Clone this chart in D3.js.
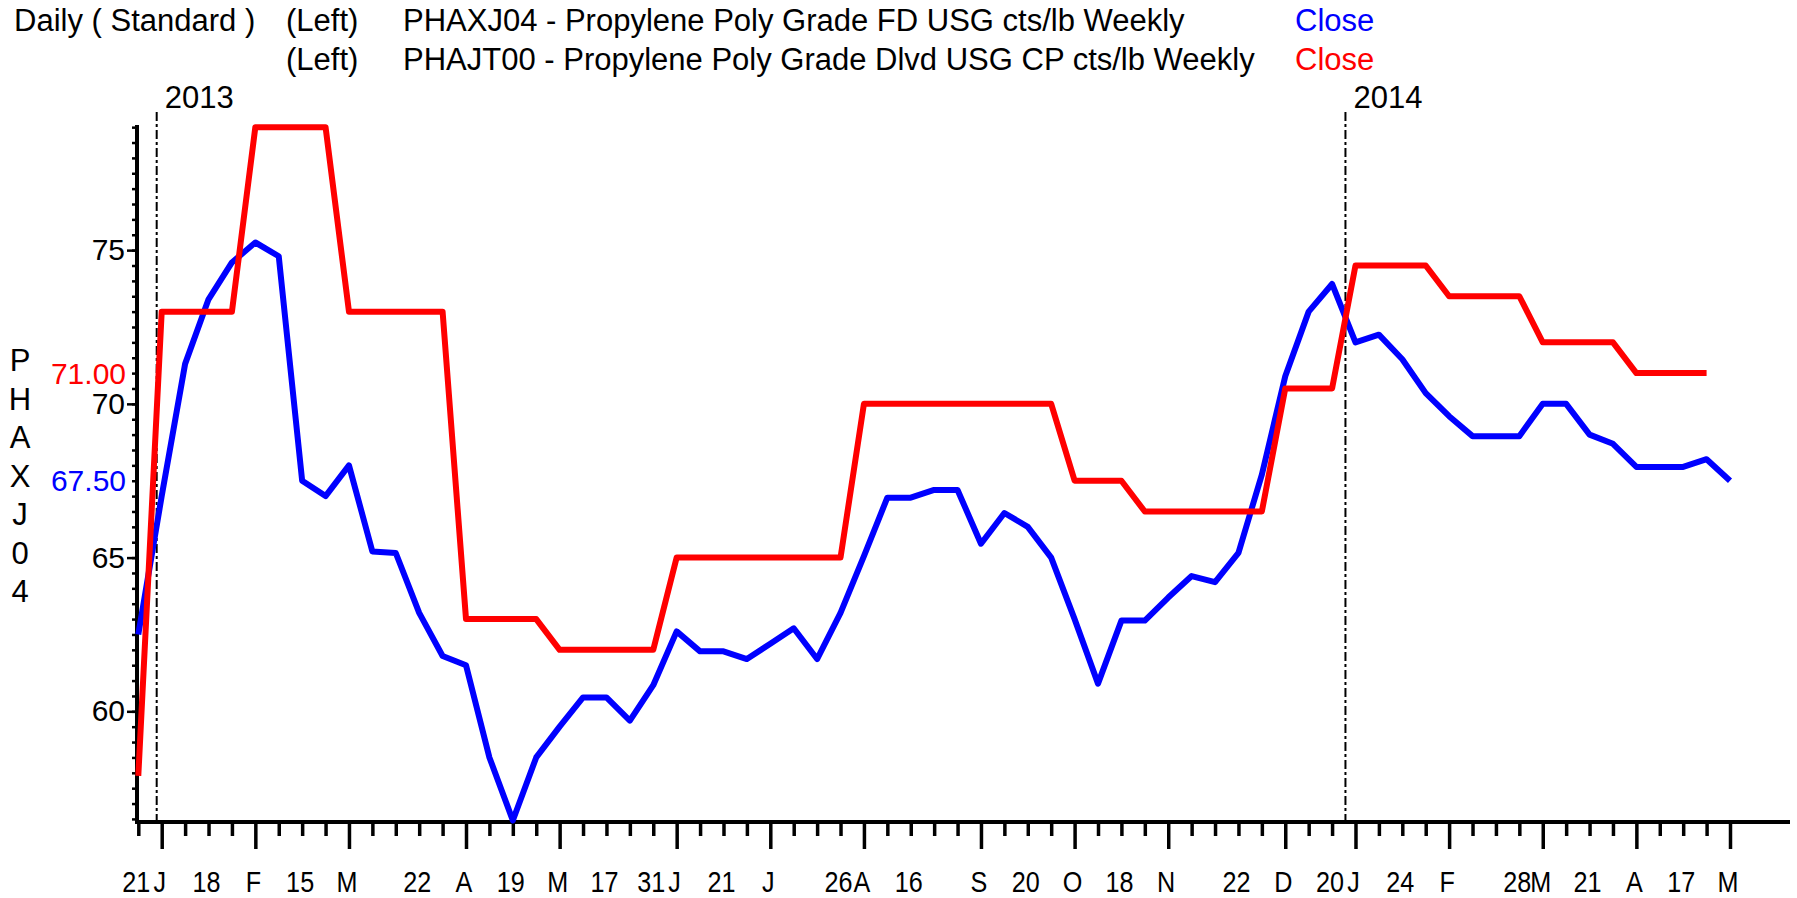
<!DOCTYPE html>
<html>
<head>
<meta charset="utf-8">
<script src="https://cdn.jsdelivr.net/npm/d3@7"></script>
<style>
  body { margin: 0; background: #fff; }
  svg { display: block; font-family: "Liberation Sans", Arial, sans-serif; }
</style>
</head>
<body>
<svg id="chart" width="1797" height="898"></svg>
<script>
// weekly observation dates (one tick per week on the axis)
const weeks = [
  "2012-12-21", "2013-01-04", "2013-01-11", "2013-01-18", "2013-01-25",
  "2013-02-01", "2013-02-08", "2013-02-15", "2013-02-22", "2013-03-01",
  "2013-03-08", "2013-03-15", "2013-03-22", "2013-03-28", "2013-04-05",
  "2013-04-12", "2013-04-19", "2013-04-26", "2013-05-03", "2013-05-10",
  "2013-05-17", "2013-05-24", "2013-05-31", "2013-06-07", "2013-06-14",
  "2013-06-21", "2013-06-28", "2013-07-05", "2013-07-12", "2013-07-19",
  "2013-07-26", "2013-08-02", "2013-08-09", "2013-08-16", "2013-08-23",
  "2013-08-30", "2013-09-06", "2013-09-13", "2013-09-20", "2013-09-27",
  "2013-10-04", "2013-10-11", "2013-10-18", "2013-10-25", "2013-11-01",
  "2013-11-08", "2013-11-15", "2013-11-22", "2013-11-29", "2013-12-06",
  "2013-12-13", "2013-12-20", "2014-01-10", "2014-01-17", "2014-01-24",
  "2014-01-31", "2014-02-07", "2014-02-14", "2014-02-21", "2014-02-28",
  "2014-03-07", "2014-03-14", "2014-03-21", "2014-03-28", "2014-04-04",
  "2014-04-11", "2014-04-17", "2014-04-25", "2014-05-02"
];

const xTickLabels = [
  "21", "J", "", "18", "", "F", "", "15", "", "M",
  "", "", "22", "", "A", "", "19", "", "M", "",
  "17", "", "31", "J", "", "21", "", "J", "", "",
  "26", "A", "", "16", "", "", "S", "", "20", "",
  "O", "", "18", "", "N", "", "", "22", "", "D",
  "", "20", "J", "", "24", "", "F", "", "", "28",
  "M", "", "21", "", "A", "", "17", "", "M"
];

// PHAXJ04 - FD USG (blue)
const phaxj04 = [
  62.5, 67.0, 71.3, 73.4, 74.6, 75.25, 74.8, 67.5, 67.0, 68.0,
  65.2, 65.15, 63.2, 61.8, 61.5, 58.5, 56.45, 58.5, 59.5, 60.45,
  60.45, 59.7, 60.85, 62.6, 61.95, 61.95, 61.7, 62.2, 62.7, 61.7,
  63.2, 65.05, 66.95, 66.95, 67.2, 67.2, 65.45, 66.45, 66.0, 65.0,
  63.0, 60.9, 62.95, 62.95, 63.7, 64.4, 64.2, 65.15, 67.7, 70.9,
  73.0, 73.9, 72.0, 72.25, 71.45, 70.35, 69.6, 68.95, 68.95, 68.95,
  70.0, 70.0, 69.0, 68.7, 67.95, 67.95, 67.95, 68.2, 67.5
];

// PHAJT00 - Dlvd USG CP (red), one week shorter
const phajt00 = [
  57.9, 73.0, 73.0, 73.0, 73.0, 79.0, 79.0, 79.0, 79.0, 73.0,
  73.0, 73.0, 73.0, 73.0, 63.0, 63.0, 63.0, 63.0, 62.0, 62.0,
  62.0, 62.0, 62.0, 65.0, 65.0, 65.0, 65.0, 65.0, 65.0, 65.0,
  65.0, 70.0, 70.0, 70.0, 70.0, 70.0, 70.0, 70.0, 70.0, 70.0,
  67.5, 67.5, 67.5, 66.5, 66.5, 66.5, 66.5, 66.5, 66.5, 70.5,
  70.5, 70.5, 74.5, 74.5, 74.5, 74.5, 73.5, 73.5, 73.5, 73.5,
  72.0, 72.0, 72.0, 72.0, 71.0, 71.0, 71.0, 71.0
];

const yMajorTicks = [60, 65, 70, 75];
const yAxisTitle = "PHAXJ04";

const series = [
  { code: "PHAXJ04", name: "PHAXJ04 - Propylene Poly Grade FD USG cts/lb Weekly", values: phaxj04, colour: "#0000ff" },
  { code: "PHAJT00", name: "PHAJT00 - Propylene Poly Grade Dlvd USG CP cts/lb Weekly", values: phajt00, colour: "#ff0000" }
];

const svg = d3.select("#chart");
const parse = d3.timeParse("%Y-%m-%d");
const dates = weeks.map(parse);

const x = d3.scalePoint().domain(weeks).range([138.3, 1730]);
const y = d3.scaleLinear().domain([56.4, 79.07]).range([822, 125]);
const axisX0 = 137;
const axisY0 = 822;

// header / legend
const head = svg.append("g").attr("font-size", "31px").attr("fill", "#000");
head.append("text").attr("x", 14).attr("y", 31).text("Daily ( Standard )");
series.forEach((s, i) => {
  const by = 31 + i * 38.5;
  head.append("text").attr("x", 286).attr("y", by).text("(Left)");
  head.append("text").attr("x", 403).attr("y", by).text(s.name);
  head.append("text").attr("x", 1295).attr("y", by).attr("fill", s.colour).text("Close");
});

// year separators
const years = [];
for (let i = 1; i < dates.length; i++) {
  if (dates[i].getFullYear() !== dates[i - 1].getFullYear()) {
    const jan1 = new Date(dates[i].getFullYear(), 0, 1);
    const frac = (jan1 - dates[i - 1]) / (dates[i] - dates[i - 1]);
    years.push({ year: dates[i].getFullYear(), px: x(weeks[i - 1]) + frac * x.step() });
  }
}
svg.append("g").selectAll("line").data(years).join("line")
  .attr("x1", d => d.px).attr("x2", d => d.px)
  .attr("y1", 112).attr("y2", axisY0)
  .attr("stroke", "#000").attr("stroke-width", 2)
  .attr("stroke-dasharray", "9,3,3,3");
svg.append("g").selectAll("text").data(years).join("text")
  .attr("x", d => d.px + 8).attr("y", 108)
  .attr("font-size", "31px")
  .text(d => d.year);

// y axis: minor ticks every 0.5, majors every 5
const yMinor = d3.range(56.5, 79.01, 0.5);
const gyMinor = svg.append("g").attr("transform", `translate(${axisX0},0)`)
  .call(d3.axisLeft(y).tickValues(yMinor).tickSize(5).tickFormat(""));
gyMinor.select(".domain").remove();
const gyMajor = svg.append("g").attr("transform", `translate(${axisX0},0)`)
  .call(d3.axisLeft(y).tickValues(yMajorTicks).tickSize(10).tickPadding(2).tickFormat(d3.format("d")));
gyMajor.select(".domain").remove();
svg.selectAll(".tick line").attr("stroke", "#000").attr("stroke-width", 2.5);
gyMajor.selectAll("text").attr("font-size", "30px").attr("font-family", null).attr("fill", "#000");

// last-value markers on the y axis
series.forEach(s => {
  const last = s.values[s.values.length - 1];
  svg.append("text")
    .attr("x", 126).attr("y", y(last)).attr("dy", "0.35em")
    .attr("text-anchor", "end").attr("font-size", "30px")
    .attr("fill", s.colour)
    .text(last.toFixed(2));
});

// y axis title, letters stacked
svg.append("g").selectAll("text").data(yAxisTitle.split("")).join("text")
  .attr("x", 20).attr("y", (d, i) => 371 + i * 38.5)
  .attr("text-anchor", "middle").attr("font-size", "31px")
  .text(d => d);

// x axis: a tick per week, long ticks at the first week of each month
const isMonthStart = i => i > 0 && dates[i].getMonth() !== dates[i - 1].getMonth();
const gx = svg.append("g").attr("transform", `translate(0,${axisY0})`)
  .call(d3.axisBottom(x).tickSize(14).tickFormat((d, i) => xTickLabels[i]));
gx.select(".domain").remove();
gx.selectAll(".tick line")
  .attr("stroke", "#000").attr("stroke-width", 3.5)
  .attr("y2", (d, i) => isMonthStart(i) ? 27 : 14);
gx.selectAll(".tick text")
  .attr("font-size", "30px").attr("font-family", null).attr("fill", "#000")
  .attr("y", 70).attr("dy", 0).attr("dx", -3)
  .attr("transform", "scale(0.84,1)");

// axis lines
svg.append("line").attr("x1", axisX0).attr("x2", axisX0).attr("y1", 125).attr("y2", axisY0 + 2)
  .attr("stroke", "#000").attr("stroke-width", 4);
svg.append("line").attr("x1", axisX0 - 2).attr("x2", 1790).attr("y1", axisY0).attr("y2", axisY0)
  .attr("stroke", "#000").attr("stroke-width", 4);

// series lines
const line = d3.line().x((d, i) => x(weeks[i])).y(d => y(d));
svg.append("g").selectAll("path").data(series).join("path")
  .attr("d", s => line(s.values))
  .attr("fill", "none")
  .attr("stroke", s => s.colour)
  .attr("stroke-width", 6)
  .attr("stroke-linejoin", "round");
</script>
</body>
</html>
